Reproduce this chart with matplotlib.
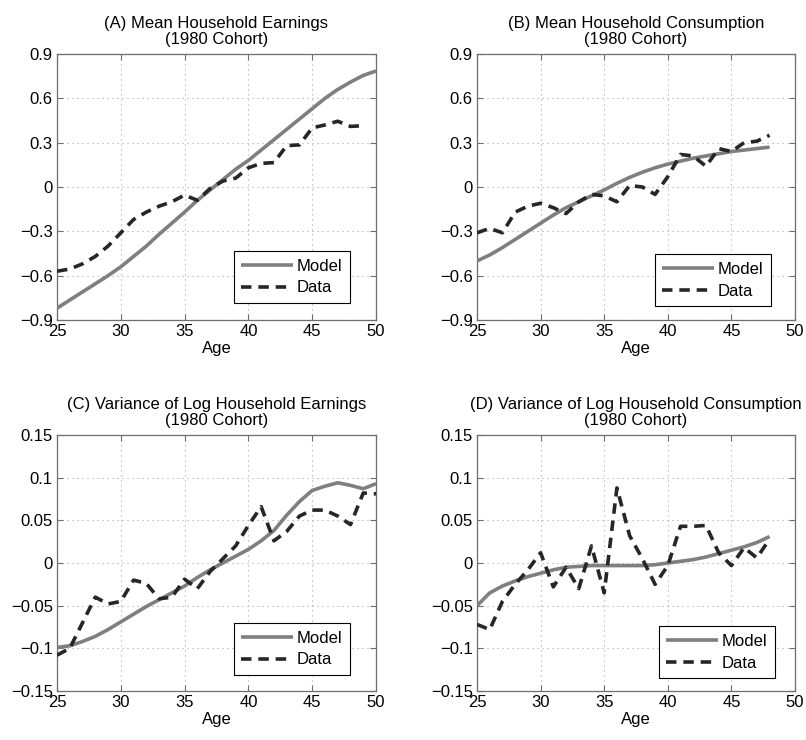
import numpy as np
import matplotlib
matplotlib.use("Agg")
import matplotlib.pyplot as plt

plt.rcParams['font.family'] = ['Liberation Sans', 'DejaVu Sans']
FS = 12
plt.rcParams['font.size'] = FS

# ---------------- data ----------------
ages_a_model = list(range(25, 51))
model_a = [-0.82, -0.765, -0.71, -0.655, -0.60, -0.54, -0.47, -0.40, -0.32, -0.245,
           -0.17, -0.09, -0.02, 0.05, 0.12, 0.18, 0.25, 0.32, 0.39, 0.46,
           0.53, 0.60, 0.66, 0.71, 0.755, 0.785]
ages_a_data = list(range(25, 50))
data_a = [-0.57, -0.555, -0.52, -0.47, -0.40, -0.31, -0.22, -0.17, -0.13, -0.10,
          -0.055, -0.09, -0.01, 0.04, 0.06, 0.13, 0.16, 0.165, 0.28, 0.285,
          0.40, 0.42, 0.445, 0.41, 0.415]

ages_b = list(range(25, 49))
model_b = [-0.50, -0.46, -0.41, -0.355, -0.30, -0.245, -0.19, -0.14, -0.10, -0.06,
           -0.02, 0.025, 0.065, 0.10, 0.13, 0.155, 0.175, 0.195, 0.21, 0.225,
           0.24, 0.25, 0.26, 0.27]
data_b = [-0.31, -0.28, -0.31, -0.17, -0.13, -0.11, -0.14, -0.18, -0.10, -0.05,
          -0.06, -0.10, 0.01, 0.0, -0.05, 0.07, 0.22, 0.21, 0.14, 0.26,
          0.24, 0.30, 0.31, 0.35]

ages_c = list(range(25, 51))
model_c = [-0.099, -0.097, -0.092, -0.086, -0.078, -0.069, -0.060, -0.051, -0.043, -0.035,
           -0.027, -0.017, -0.008, 0.0, 0.008, 0.016, 0.026, 0.038, 0.056, 0.072,
           0.085, 0.090, 0.094, 0.091, 0.087, 0.093]
data_c = [-0.108, -0.100, -0.070, -0.040, -0.048, -0.045, -0.020, -0.024, -0.042, -0.040,
          -0.019, -0.030, -0.010, 0.005, 0.020, 0.044, 0.066, 0.026, 0.037, 0.055,
          0.062, 0.062, 0.055, 0.045, 0.082, 0.081]

ages_d = list(range(25, 49))
model_d = [-0.050, -0.035, -0.027, -0.021, -0.016, -0.012, -0.008, -0.005, -0.004, -0.003,
           -0.003, -0.003, -0.003, -0.003, -0.002, 0.0, 0.002, 0.004, 0.007, 0.011,
           0.015, 0.019, 0.024, 0.031]
data_d = [-0.072, -0.078, -0.045, -0.025, -0.008, 0.012, -0.028, -0.005, -0.030, 0.020,
          -0.035, 0.088, 0.032, 0.005, -0.025, -0.003, 0.043, 0.043, 0.044, 0.012,
          -0.003, 0.018, 0.006, 0.028]

titles = ["(A) Mean Household Earnings\n(1980 Cohort)",
          "(B) Mean Household Consumption\n(1980 Cohort)",
          "(C) Variance of Log Household Earnings\n(1980 Cohort)",
          "(D) Variance of Log Household Consumption\n(1980 Cohort)"]
x_ticks = [25, 30, 35, 40, 45, 50]
yticks_mean = [-0.9, -0.6, -0.3, 0, 0.3, 0.6, 0.9]
ylabels_mean = ["\u22120.9", "\u22120.6", "\u22120.3", "0", "0.3", "0.6", "0.9"]
yticks_var = [-0.15, -0.1, -0.05, 0, 0.05, 0.1, 0.15]
ylabels_var = ["\u22120.15", "\u22120.1", "\u22120.05", "0", "0.05", "0.1", "0.15"]

# ---------------- figure ----------------
W, H = 806, 740
fig = plt.figure(figsize=(W / 100, H / 100), dpi=100)

def rect(x0, y0, x1, y1):
    return [x0 / W, 1 - y1 / H, (x1 - x0) / W, (y1 - y0) / H]

rects = [rect(57, 54, 376, 320), rect(477, 54, 795, 320),
         rect(57, 435, 376, 691), rect(477, 435, 795, 691)]

panels = [
    (ages_a_model, model_a, ages_a_data, data_a, yticks_mean, ylabels_mean, (-0.9, 0.9), (26, 17)),
    (ages_b, model_b, ages_b, data_b, yticks_mean, ylabels_mean, (-0.9, 0.9), (24, 14)),
    (ages_c, model_c, ages_c, data_c, yticks_var, ylabels_var, (-0.15, 0.15), (26, 16)),
    (ages_d, model_d, ages_d, data_d, yticks_var, ylabels_var, (-0.15, 0.15), (20, 13)),
]

model_color = '#7f7f7f'
data_color = '#262626'
spine_color = '#6e6e6e'

for i, (xm, ym, xd, yd, yt, yl, ylim, lpad) in enumerate(panels):
    r = rects[i]
    ax = fig.add_axes(r)
    ax.plot(xm, ym, color=model_color, lw=2.6, solid_capstyle='butt', label='Model', zorder=3)
    ax.plot(xd, yd, color=data_color, lw=2.6, linestyle=(0, (2.9, 1.9)),
            dash_capstyle='butt', label='Data', zorder=4)
    ax.set_xlim(25, 50)
    ax.set_ylim(*ylim)
    ax.set_xticks(x_ticks)
    ax.set_xticklabels([str(t) for t in x_ticks])
    ax.set_yticks(yt)
    ax.set_yticklabels(yl)
    ax.grid(True, color='#a8a8a8', linestyle=(0, (1, 3.5)), linewidth=0.8)
    ax.tick_params(direction='in', top=True, right=True, length=4, width=0.8,
                   color=spine_color, labelsize=FS, pad=3)
    for s in ax.spines.values():
        s.set_color(spine_color)
        s.set_linewidth(0.9)
    ax.set_xlabel('Age', fontsize=FS, labelpad=1)
    ax.set_title(titles[i], fontsize=FS, pad=7, linespacing=1.1)
    axw = r[2] * W
    axh = r[3] * H
    leg = ax.legend(loc='lower right',
                    bbox_to_anchor=(1 - lpad[0] / axw, lpad[1] / axh),
                    borderaxespad=0, frameon=True, fancybox=False, framealpha=1,
                    edgecolor='black', handlelength=3.1, handletextpad=0.25,
                    borderpad=0.45, labelspacing=0.4, fontsize=FS)
    leg.get_frame().set_linewidth(0.8)

fig.savefig('out.png', dpi=100)
